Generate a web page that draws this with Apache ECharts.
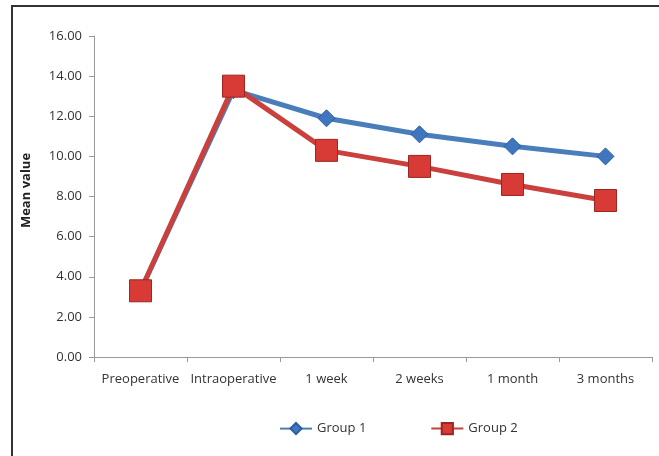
<!DOCTYPE html>
<html lang="en">
<head>
<meta charset="utf-8">
<style>
    body { margin: 0; background: #fff; }
    /* frame of the original figure, only top/left edge visible */
    #frame {
        position: absolute; left: 11px; top: 5px; width: 700px; height: 500px;
        border-top: 2px solid #333; border-left: 2px solid #333;
    }
    #container { position: absolute; left: 0; top: 0; width: 659px; height: 456px; }
</style>
</head>
<body>
<div id="frame"></div>
<div id="container"></div>
<script src="https://cdn.jsdelivr.net/npm/echarts@6/dist/echarts.min.js"></script>
<script>
    var categories = ['Preoperative', 'Intraoperative', '1 week', '2 weeks', '1 month', '3 months'];
    var group1 = [3.3, 13.3, 11.9, 11.1, 10.5, 10.0];
    var group2 = [3.3, 13.5, 10.3, 9.5, 8.6, 7.8];

    var chart = echarts.init(document.getElementById('container'));

    var option = {
        animation: false,
        textStyle: { fontFamily: 'Open Sans' },
        grid: { left: 94, right: 7, top: 36, bottom: 99 },
        legend: {
            left: 274, top: 417,
            itemWidth: 32, itemHeight: 14, itemGap: 64,
            textStyle: { fontSize: 13, color: '#333', fontFamily: 'Open Sans' },
            data: ['Group 1', 'Group 2']
        },
        xAxis: {
            type: 'category',
            data: categories,
            boundaryGap: true,
            axisLine: { lineStyle: { color: '#999', width: 1 } },
            axisTick: { show: true, length: 5, lineStyle: { color: '#999' } },
            axisLabel: { color: '#333', fontSize: 13, margin: 16, interval: 0 }
        },
        yAxis: {
            type: 'value',
            min: 0, max: 16, interval: 2,
            name: 'Mean value',
            nameLocation: 'middle',
            nameGap: 61,
            nameTextStyle: { fontWeight: 'bold', fontSize: 13, color: '#222', padding: [0, 0, 0, 12] },
            axisLine: { show: true, lineStyle: { color: '#999' } },
            axisTick: { show: true, length: 5, lineStyle: { color: '#999' } },
            splitLine: { show: false },
            axisLabel: {
                color: '#333', fontSize: 13, margin: 12,
                formatter: function (v) { return v.toFixed(2); }
            }
        },
        series: [
            {
                name: 'Group 1',
                type: 'line',
                data: group1,
                symbol: 'diamond',
                symbolSize: 17,
                lineStyle: { color: '#4a7ebb', width: 5 },
                itemStyle: { color: '#3f76bf', borderColor: '#2d5e9e', borderWidth: 1 },
                z: 2
            },
            {
                name: 'Group 2',
                type: 'line',
                data: group2,
                symbol: 'rect',
                symbolSize: 22,
                lineStyle: { color: '#c9403c', width: 5 },
                itemStyle: { color: '#d83a36', borderColor: '#9c2622', borderWidth: 1 },
                z: 3
            }
        ]
    };

    chart.setOption(option);
    window.addEventListener('resize', chart.resize);
</script>
</body>
</html>
